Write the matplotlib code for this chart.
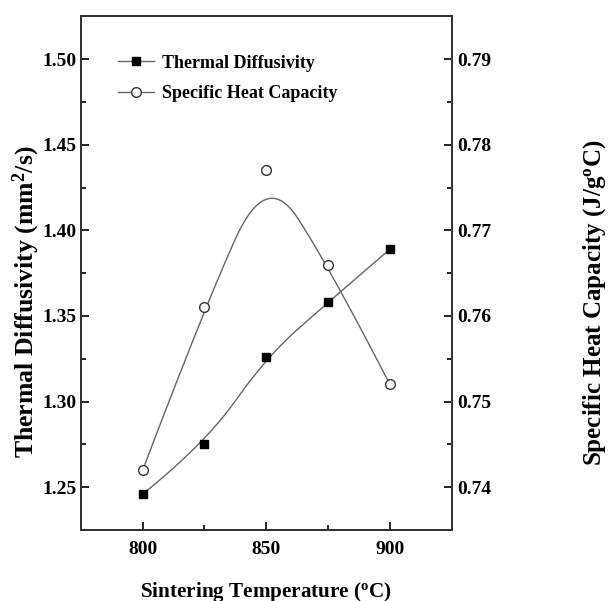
import numpy as np
import matplotlib
matplotlib.use('Agg')
import matplotlib.pyplot as plt
from matplotlib.ticker import MultipleLocator

plt.rcParams['font.family'] = 'Liberation Serif'
plt.rcParams['font.weight'] = 'bold'
plt.rcParams['axes.labelweight'] = 'bold'
plt.rcParams['mathtext.fontset'] = 'custom'
plt.rcParams['mathtext.rm'] = 'Liberation Serif:bold'
plt.rcParams['mathtext.bf'] = 'Liberation Serif:bold'
plt.rcParams['mathtext.it'] = 'Liberation Serif:bold'

# data
temperature = [800, 825, 850, 875, 900]
thermal_diffusivity = [1.246, 1.275, 1.326, 1.358, 1.389]
specific_heat = [0.742, 0.761, 0.777, 0.766, 0.752]


def bspline2(xs, ys, n=60):
    # clamped quadratic B-spline with the data points as control points
    pts = np.column_stack([xs, ys]).astype(float)
    mids = (pts[1:-1] + pts[2:]) / 2
    starts = [pts[0]] + list(mids[:-1])
    ends = list(mids[:-1]) + [pts[-1]]
    ctrl = pts[1:-1]
    t = np.linspace(0, 1, n)[:, None]
    out = []
    for a, c, b in zip(starts, ctrl, ends):
        out.append((1 - t) ** 2 * a + 2 * t * (1 - t) * c + t ** 2 * b)
    curve = np.vstack(out)
    return curve[:, 0], curve[:, 1]


fig = plt.figure(figsize=(6.08, 6.01), dpi=100)
ax = fig.add_axes([0.133, 0.118, 0.610, 0.855])
ax2 = ax.twinx()

line_col = '#666666'

cx, cy = bspline2(temperature, thermal_diffusivity)
ax.plot(cx, cy, color=line_col, lw=1.0)
ax.plot(temperature, thermal_diffusivity, 's', color='black', ms=6, ls='none')

hx, hy = bspline2(temperature, specific_heat)
ax2.plot(hx, hy, color=line_col, lw=1.0)
ax2.plot(temperature, specific_heat, 'o', mfc='white', mec='#333333', mew=1.0, ms=7, ls='none')

# legend handles
h1, = ax.plot([], [], color=line_col, lw=1.0, marker='s', mfc='black', mec='black', ms=6)
h2, = ax.plot([], [], color=line_col, lw=1.0, marker='o', mfc='white', mec='#333333', ms=7)
ax.legend([h1, h2], ['Thermal Diffusivity', 'Specific Heat Capacity'],
          loc='upper left', bbox_to_anchor=(0.10, 0.925), frameon=False,
          fontsize=13, handlelength=2.0, handletextpad=0.45, labelspacing=0.75,
          borderpad=0, borderaxespad=0)

ax.set_xlim(775, 925)
ax.set_ylim(1.225, 1.525)
ax2.set_ylim(0.735, 0.795)

ax.xaxis.set_major_locator(MultipleLocator(50))
ax.xaxis.set_minor_locator(MultipleLocator(25))
ax.yaxis.set_major_locator(MultipleLocator(0.05))
ax.yaxis.set_minor_locator(MultipleLocator(0.025))
ax2.yaxis.set_major_locator(MultipleLocator(0.01))
ax2.yaxis.set_minor_locator(MultipleLocator(0.005))

ax.yaxis.set_major_formatter(plt.FormatStrFormatter('%.2f'))
ax2.yaxis.set_major_formatter(plt.FormatStrFormatter('%.2f'))

for a in (ax, ax2):
    a.tick_params(which='major', direction='in', length=6, width=1.2, labelsize=14, pad=4)
    a.tick_params(which='minor', direction='in', length=3.5, width=1.2)
    for s in a.spines.values():
        s.set_linewidth(1.4)
        s.set_color('#333333')
ax.tick_params(axis='y', pad=3)
ax.tick_params(axis='x', which='both', top=False, pad=8)

ax.set_xlabel(r'Sintering Temperature ($^{\mathrm{o}}$C)', fontsize=15.2, labelpad=16)
ax.set_ylabel(r'Thermal Diffusivity (mm$^{\mathrm{2}}$/s)', fontsize=18.5)
ax2.set_ylabel(r'Specific Heat Capacity (J/g$^{\mathrm{o}}$C)', fontsize=18)
ax.yaxis.set_label_coords(-0.106, 0.445)
ax2.yaxis.set_label_coords(1.350, 0.442)

fig.savefig('out.png', dpi=100)
